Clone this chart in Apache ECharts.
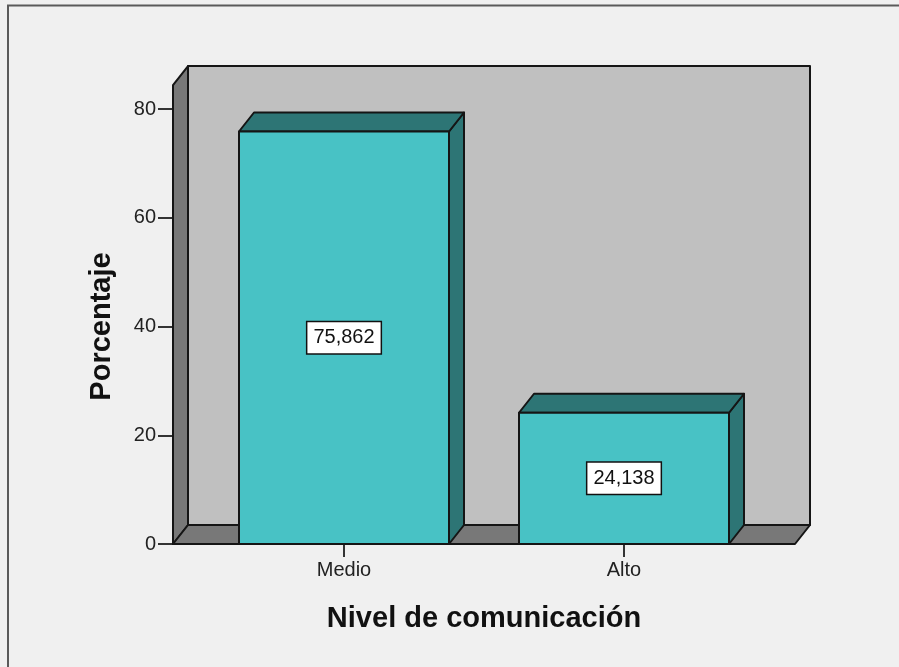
<!DOCTYPE html>
<html>
<head>
<meta charset="utf-8">
<script src="https://cdn.jsdelivr.net/npm/echarts@6/dist/echarts.min.js"></script>
<style>
html,body{margin:0;padding:0;background:#f0f0f0;}
#chart{width:899px;height:667px;}
</style>
</head>
<body>
<div id="chart"></div>
<script>
// Data
var categories = ['Medio', 'Alto'];
var values = [75.862, 24.138];
var valueLabels = ['75,862', '24,138'];
var yTicks = [0, 20, 40, 60, 80];
var yMin = 0, yMax = 80, yInterval = 20;
var wallTopValue = 84.4;

// 3D style constants
var DX = 15, DY = -19;
var FRONT = '#48c2c5', DARK = '#2d7575', WALL = '#c0c0c0', SIDEWALL = '#787878', EDGE = '#151515';

var chart = echarts.init(document.getElementById('chart'));

function edge() { return {stroke: EDGE, lineWidth: 2, lineJoin: 'round'}; }

function wallsRender(params, api) {
  var cs = params.coordSys;
  var band = api.size([1, 0])[0];
  var pad = band * 31 / 280;
  var xl = cs.x - pad, xr = cs.x + cs.width + pad;
  var yb = api.coord([0, 0])[1];
  var yt = api.coord([0, wallTopValue])[1];
  return {
    type: 'group',
    children: [
      {type: 'rect', shape: {x: xl + DX, y: yt + DY, width: xr - xl, height: yb - yt},
       style: Object.assign({fill: WALL}, edge())},
      {type: 'polygon', shape: {points: [[xl, yt], [xl + DX, yt + DY], [xl + DX, yb + DY], [xl, yb]]},
       style: Object.assign({fill: SIDEWALL}, edge())},
      {type: 'polygon', shape: {points: [[xl, yb], [xl + DX, yb + DY], [xr + DX, yb + DY], [xr, yb]]},
       style: Object.assign({fill: SIDEWALL}, edge())}
    ]
  };
}

function barRender(params, api) {
  var idx = params.dataIndex;
  var pt = api.coord([api.value(0), api.value(1)]);
  var base = api.coord([api.value(0), 0]);
  var w = api.size([1, 0])[0] * 0.75;
  var x0 = pt[0] - w / 2, x1 = pt[0] + w / 2;
  var top = pt[1], bot = base[1];
  return {
    type: 'group',
    children: [
      {type: 'polygon', shape: {points: [[x1, top], [x1 + DX, top + DY], [x1 + DX, bot + DY], [x1, bot]]},
       style: Object.assign({fill: DARK}, edge())},
      {type: 'polygon', shape: {points: [[x0, top], [x0 + DX, top + DY], [x1 + DX, top + DY], [x1, top]]},
       style: Object.assign({fill: DARK}, edge())},
      {type: 'rect', shape: {x: x0, y: top, width: w, height: bot - top},
       style: Object.assign({fill: FRONT}, edge())},
      {type: 'text', x: pt[0], y: (top + bot) / 2,
       style: {text: valueLabels[idx], fill: '#111', font: '20px "Liberation Sans", Arial, sans-serif',
               align: 'center', verticalAlign: 'middle',
               backgroundColor: '#fff', borderColor: '#111', borderWidth: 1.5,
               padding: [6, 6, 5, 6]}}
    ]
  };
}

var option = {
  backgroundColor: '#f0f0f0',
  animation: false,
  graphic: [{
    type: 'rect', shape: {x: 8, y: 5.5, width: 1000, height: 1000},
    style: {fill: 'none', stroke: '#5a5a5a', lineWidth: 2}, z: -10
  }],
  grid: {left: 204, right: 135, top: 109, bottom: 123},
  xAxis: {
    type: 'category',
    data: categories,
    name: 'Nivel de comunicación',
    nameLocation: 'middle',
    nameGap: 60,
    nameTextStyle: {fontFamily: '"Liberation Sans", Arial, sans-serif', fontWeight: 'bold', fontSize: 29, color: '#111'},
    axisLine: {show: false},
    axisTick: {show: true, alignWithLabel: true, length: 13, lineStyle: {color: '#333', width: 2}},
    axisLabel: {margin: 16, fontFamily: '"Liberation Sans", Arial, sans-serif', fontSize: 20, color: '#222'},
    splitLine: {show: false}
  },
  yAxis: {
    type: 'value',
    min: yMin, max: yMax, interval: yInterval,
    offset: 31,
    name: 'Porcentaje',
    nameLocation: 'middle',
    nameRotate: 90,
    nameGap: 57,
    nameTextStyle: {fontFamily: '"Liberation Sans", Arial, sans-serif', fontWeight: 'bold', fontSize: 29, color: '#111'},
    axisLine: {show: false},
    axisTick: {show: true, length: 15, lineStyle: {color: '#333', width: 2}},
    axisLabel: {margin: 17, fontFamily: '"Liberation Sans", Arial, sans-serif', fontSize: 20, color: '#222',
                formatter: function (v) { return yTicks.indexOf(v) >= 0 ? String(v) : ''; }},
    splitLine: {show: false}
  },
  series: [
    {type: 'custom', renderItem: wallsRender, data: [[0]], encode: {x: 0}, z: 1, silent: true, clip: false},
    {type: 'custom', renderItem: barRender,
     data: categories.map(function (c, i) { return [i, values[i]]; }),
     encode: {x: 0, y: 1}, z: 2, clip: false}
  ]
};
chart.setOption(option);
</script>
</body>
</html>
